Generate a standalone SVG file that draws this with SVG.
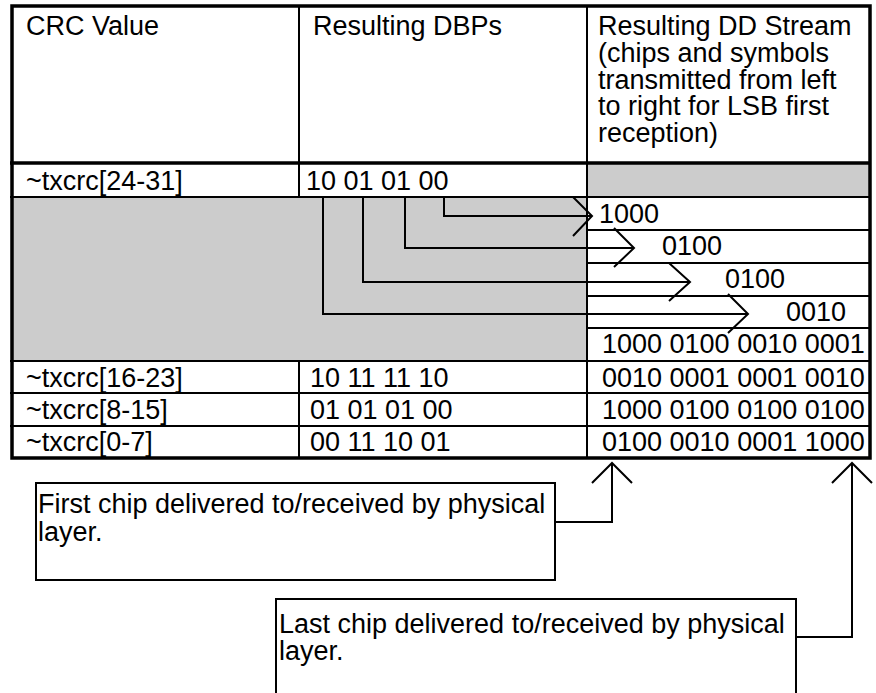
<svg xmlns="http://www.w3.org/2000/svg" width="876" height="693" viewBox="0 0 876 693">
<style>
text{font-family:"Liberation Sans",Arial,sans-serif;font-size:27px;fill:#000}
.thin{stroke:#000;stroke-width:2;fill:none}
.thick{stroke:#000;stroke-width:3.5;fill:none}
.conn{stroke:#000;stroke-width:2;fill:none;stroke-linejoin:miter}
.gray{fill:#cccccc}
.box{fill:#fff;stroke:#000;stroke-width:2}
</style>
<rect x="0" y="0" width="876" height="693" fill="#fff"/>
<g id="table">
<rect class="gray" x="12" y="197" width="575" height="164"/>
<rect class="gray" x="587" y="163" width="283" height="34"/>
<path class="thin" d="M299 6V197M299 361V458M587 6V458"/>
<path class="thin" d="M10 197H870M587 230H870M587 263H870M587 296H870M587 328H870M10 361H870M10 393H870M10 426H870"/>
<path class="thick" d="M10 163H870"/>
<rect class="thick" x="12" y="6" width="858" height="452"/>
</g>
<g id="header">
<text x="26" y="35">CRC Value</text>
<text x="313" y="35">Resulting DBPs</text>
<text x="598" y="35">Resulting DD Stream<tspan x="598" dy="26.75">(chips and symbols</tspan><tspan x="598" dy="26.75">transmitted from left</tspan><tspan x="598" dy="26.75">to right for LSB first</tspan><tspan x="598" dy="26.75">reception)</tspan></text>
</g>
<g id="row-24-31">
<text x="26" y="190">~txcrc[24-31]</text>
<text x="306" y="190">10 01 01 00</text>
<text x="599" y="223">1000</text>
<text x="662" y="255">0100</text>
<text x="725" y="288">0100</text>
<text x="786" y="321">0010</text>
<text x="602" y="353">1000 0100 0010 0001</text>
</g>
<g id="row-16-23">
<text x="26" y="387">~txcrc[16-23]</text>
<text x="310" y="387">10 11 11 10</text>
<text x="602" y="387">0010 0001 0001 0010</text>
</g>
<g id="row-8-15">
<text x="26" y="419">~txcrc[8-15]</text>
<text x="310" y="419">01 01 01 00</text>
<text x="602" y="419">1000 0100 0100 0100</text>
</g>
<g id="row-0-7">
<text x="26" y="451">~txcrc[0-7]</text>
<text x="310" y="451">00 11 10 01</text>
<text x="602" y="451">0100 0010 0001 1000</text>
</g>
<g id="first-note">
<rect class="box" x="36" y="483" width="519" height="97"/>
<text x="38" y="513">First chip delivered to/received by physical<tspan x="38" dy="28">layer.</tspan></text>
</g>
<g id="last-note">
<rect class="box" x="276" y="599" width="520" height="110"/>
<text x="279" y="633">Last chip delivered to/received by physical<tspan x="279" dy="27">layer.</tspan></text>
</g>
<g id="connectors">
<path class="conn" d="M444 197V216H592M573 197L592 216L573 236"/>
<path class="conn" d="M405 197V248H634M614 228L634 248L614 267"/>
<path class="conn" d="M363 197V282H690M669 263L690 282L669 301"/>
<path class="conn" d="M323 197V314H748M728 294L748 314L728 333"/>
<path class="conn" d="M555 522H612V463M592 483L612 463L632 483"/>
<path class="conn" d="M796 637H852V463M832 483L852 463L872 483"/>
</g>
</svg>
